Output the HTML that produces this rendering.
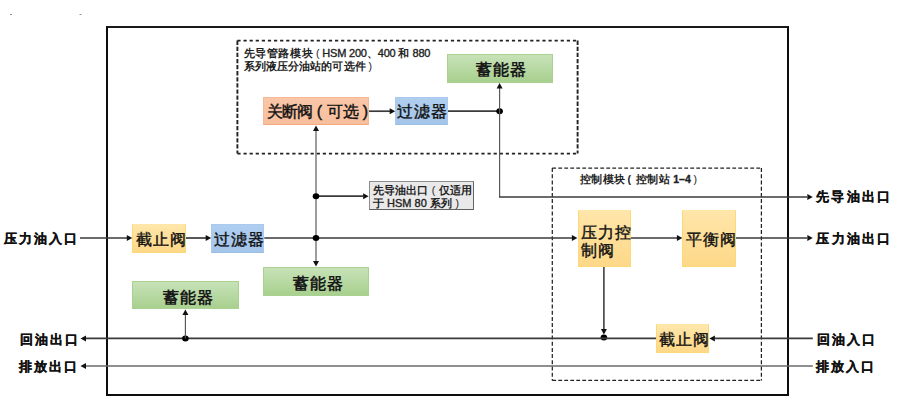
<!DOCTYPE html>
<html><head><meta charset="utf-8">
<style>
html,body{margin:0;padding:0;background:#fff;}
body{width:902px;height:417px;position:relative;overflow:hidden;font-family:"Liberation Sans",sans-serif;color:#111;}
.a{position:absolute;}
.bx{position:absolute;box-sizing:border-box;}
.t{position:absolute;white-space:nowrap;line-height:1;color:#1a1a1a;}
.b16{font-size:16px;color:#111;-webkit-text-stroke:0.4px #111;}
.g16{font-size:16px;font-weight:bold;}
.l14{font-size:13px;font-weight:bold;letter-spacing:2px;color:#111;-webkit-text-stroke:0.25px #111;}
.s11{font-size:10.5px;color:#222;}
.cj{font-weight:bold;letter-spacing:0.5px;}
.lat{font-size:11px;-webkit-text-stroke:0.35px #222;}
.pw{display:inline-block;text-align:center;}
.green{background:linear-gradient(#c7e2b8,#a8d08e);border:1px solid #a9d18f;}
.yellow{background:linear-gradient(#ffe6aa,#fdd888);border:1px solid #fcd877;border-top-color:#ffe6a6;}
.salmon{background:linear-gradient(#f9c6a8,#f8bf9e);border:1px solid #f6b896;border-bottom-color:#f3a87e;}
.blue{background:linear-gradient(#afcef0,#a4c5ea);border:1px solid #a9caee;border-bottom-color:#9cbfe6;}
svg{position:absolute;left:0;top:0;}
</style></head><body>
<div class="a" style="left:106px;top:26px;width:678.5px;height:365.5px;border:2.1px solid #0d0d0d;border-top-color:#1a1a1a;border-bottom-width:2.6px;"></div>
<svg width="902" height="417" viewBox="0 0 902 417">
<line x1="237.40" y1="40.60" x2="577.60" y2="40.60" stroke="#222" stroke-width="1.90" stroke-dasharray="3.2,2.9"/>
<line x1="237.40" y1="153.60" x2="577.60" y2="153.60" stroke="#222" stroke-width="1.90" stroke-dasharray="3.2,2.9"/>
<line x1="237.40" y1="40.60" x2="237.40" y2="153.60" stroke="#222" stroke-width="1.90" stroke-dasharray="4.3,1.8"/>
<line x1="577.60" y1="40.60" x2="577.60" y2="153.60" stroke="#222" stroke-width="1.90" stroke-dasharray="4.3,1.8"/>
<line x1="552.30" y1="168.10" x2="761.40" y2="168.10" stroke="#222" stroke-width="1.25" stroke-dasharray="3.8,2.2"/>
<line x1="552.30" y1="380.40" x2="761.40" y2="380.40" stroke="#222" stroke-width="1.25" stroke-dasharray="3.8,2.2"/>
<line x1="552.30" y1="168.10" x2="552.30" y2="380.40" stroke="#222" stroke-width="1.25" stroke-dasharray="4.0,2.2"/>
<line x1="761.40" y1="168.10" x2="761.40" y2="380.40" stroke="#222" stroke-width="1.25" stroke-dasharray="4.0,2.2"/>
<line x1="80.00" y1="238.00" x2="127.00" y2="238.00" stroke="#3a3a3a" stroke-width="1.70"/>
<polygon points="132.30,238.00 126.80,235.00 126.80,241.00" fill="#111"/>
<line x1="185.70" y1="238.00" x2="206.00" y2="238.00" stroke="#3a3a3a" stroke-width="1.70"/>
<polygon points="211.20,238.00 205.70,235.00 205.70,241.00" fill="#111"/>
<line x1="264.30" y1="238.00" x2="572.00" y2="238.00" stroke="#3a3a3a" stroke-width="1.70"/>
<polygon points="577.40,238.00 571.90,235.00 571.90,241.00" fill="#111"/>
<line x1="630.60" y1="238.00" x2="677.00" y2="238.00" stroke="#3a3a3a" stroke-width="1.70"/>
<polygon points="682.40,238.00 676.90,235.00 676.90,241.00" fill="#111"/>
<line x1="735.80" y1="238.00" x2="807.00" y2="238.00" stroke="#3a3a3a" stroke-width="1.70"/>
<polygon points="812.80,238.00 807.30,235.00 807.30,241.00" fill="#111"/>
<line x1="316.00" y1="131.00" x2="316.00" y2="261.00" stroke="#555" stroke-width="1.15"/>
<polygon points="316.00,125.60 313.00,131.10 319.00,131.10" fill="#111"/>
<polygon points="316.00,266.40 313.00,260.90 319.00,260.90" fill="#111"/>
<ellipse cx="316.00" cy="238.00" rx="3.30" ry="3.00" fill="#000"/>
<line x1="316.00" y1="196.20" x2="363.00" y2="196.20" stroke="#3a3a3a" stroke-width="1.70"/>
<polygon points="368.60,196.20 363.10,193.20 363.10,199.20" fill="#111"/>
<ellipse cx="316.00" cy="196.20" rx="3.30" ry="3.00" fill="#000"/>
<line x1="369.00" y1="111.20" x2="390.00" y2="111.20" stroke="#3a3a3a" stroke-width="1.70"/>
<polygon points="395.20,111.20 389.70,108.20 389.70,114.20" fill="#111"/>
<line x1="448.00" y1="111.20" x2="499.60" y2="111.20" stroke="#3a3a3a" stroke-width="1.70"/>
<ellipse cx="499.60" cy="111.20" rx="3.30" ry="3.00" fill="#000"/>
<line x1="499.60" y1="88.00" x2="499.60" y2="197.00" stroke="#555" stroke-width="1.15"/>
<polygon points="499.60,83.00 496.60,88.50 502.60,88.50" fill="#111"/>
<line x1="499.00" y1="197.00" x2="807.00" y2="197.00" stroke="#3a3a3a" stroke-width="1.70"/>
<polygon points="812.80,197.00 807.30,194.00 807.30,200.00" fill="#111"/>
<line x1="603.90" y1="267.00" x2="603.90" y2="333.00" stroke="#333" stroke-width="1.50"/>
<polygon points="603.90,334.40 600.90,328.90 606.90,328.90" fill="#111"/>
<ellipse cx="603.90" cy="337.60" rx="3.30" ry="3.00" fill="#000"/>
<line x1="714.50" y1="338.40" x2="812.80" y2="338.40" stroke="#3a3a3a" stroke-width="1.70"/>
<polygon points="709.40,338.40 714.90,335.40 714.90,341.40" fill="#111"/>
<line x1="85.50" y1="338.40" x2="656.20" y2="338.40" stroke="#3a3a3a" stroke-width="1.70"/>
<polygon points="80.50,338.40 86.00,335.40 86.00,341.40" fill="#111"/>
<ellipse cx="185.40" cy="338.40" rx="3.30" ry="3.00" fill="#000"/>
<line x1="185.40" y1="314.50" x2="185.40" y2="338.40" stroke="#555" stroke-width="1.15"/>
<polygon points="185.40,309.50 182.40,315.00 188.40,315.00" fill="#111"/>
<line x1="85.50" y1="366.00" x2="812.80" y2="366.00" stroke="#6a6a6a" stroke-width="1.40"/>
<polygon points="80.50,366.00 86.00,363.00 86.00,369.00" fill="#111"/>
<rect x="10" y="14" width="2" height="1" fill="#8a8ab0"/>
<rect x="79.5" y="14" width="2" height="1" fill="#8a8ab0"/>
</svg>
<div class="bx salmon" style="left:263.3px;top:97px;width:105.7px;height:28px;"></div>
<div class="bx blue" style="left:395px;top:97px;width:53px;height:28px;"></div>
<div class="bx green" style="left:447px;top:54px;width:106px;height:29px;"></div>
<div class="bx" style="left:368.6px;top:181.2px;width:105.3px;height:29.2px;background:#e9e9e9;border:1px solid #8c8c8c;border-right-color:#666;border-bottom-color:#5e5e5e;"></div>
<div class="bx yellow" style="left:132.3px;top:224.3px;width:53.4px;height:28.7px;"></div>
<div class="bx blue" style="left:211.2px;top:224.3px;width:53.1px;height:28.7px;"></div>
<div class="bx green" style="left:263.4px;top:266.5px;width:105.6px;height:29.6px;"></div>
<div class="bx green" style="left:132.2px;top:280.7px;width:106.5px;height:28.7px;"></div>
<div class="bx yellow" style="left:577.6px;top:210px;width:53px;height:57px;"></div>
<div class="bx yellow" style="left:682.4px;top:210px;width:53.4px;height:57px;"></div>
<div class="bx yellow" style="left:656.2px;top:324.3px;width:53.1px;height:28.6px;"></div>

<div class="t s11" id="t1" style="left:243.7px;top:48.2px;"><span class="cj" style="letter-spacing:0.6px">先导管路模块</span><span class="pw" style="width:9px;">(</span><span class="lat" style="letter-spacing:-0.2px">HSM 200</span><span class="cj" style="letter-spacing:0">、</span><span class="lat" style="letter-spacing:-0.2px">400 </span><span class="cj">和</span><span class="lat" style="letter-spacing:-0.3px"> 880</span></div>
<div class="t s11" id="t2" style="left:243.7px;top:61.2px;"><span class="cj" style="letter-spacing:0.1px">系列液压分油站的可选件</span><span class="pw" style="width:9px;">)</span></div>
<div class="t b16" id="t3" style="left:267px;top:104.4px;"><span style="letter-spacing:-1.2px;">关断阀</span><span class="pw" style="width:16px;">(</span><span>可选</span><span class="pw" style="width:12px;">)</span></div>
<div class="t b16" id="t4" style="left:397.0px;top:104px;letter-spacing:0.8px;">过滤器</div>
<div class="t g16" id="t5" style="left:475.5px;top:62px;letter-spacing:1px;">蓄能器</div>
<div class="t s11" id="t6" style="left:372.5px;top:184.5px;"><span class="cj" style="letter-spacing:0.2px">先导油出口</span><span class="pw" style="width:10px;">(</span><span class="cj" style="letter-spacing:0.1px">仅适用</span></div>
<div class="t s11" id="t7" style="left:372.5px;top:197.5px;"><span class="cj">于</span><span class="lat"> HSM 80 </span><span class="cj">系列</span><span class="pw" style="width:9px;">)</span></div>
<div class="t b16" id="t8" style="left:136.3px;top:232px;letter-spacing:1px;">截止阀</div>
<div class="t b16" id="t9" style="left:214.0px;top:232px;letter-spacing:1px;">过滤器</div>
<div class="t g16" id="t10" style="left:292.6px;top:276px;letter-spacing:1px;">蓄能器</div>
<div class="t g16" id="t11" style="left:163.0px;top:289.5px;letter-spacing:1px;">蓄能器</div>
<div class="t s11" id="t12" style="left:579.8px;top:174px;"><span class="cj">控制模块</span><span class="pw" style="width:10px;position:relative;left:-1.5px;font-weight:bold;">(</span><span class="cj">控制站</span><span class="lat" style="font-weight:bold;font-size:10.5px;"> 1–4</span><span class="pw" style="width:9px;">)</span></div>
<div class="t b16" id="t13" style="left:580.9px;top:225px;letter-spacing:0.9px;">压力控</div>
<div class="t b16" id="t14" style="left:580.9px;top:243px;letter-spacing:0.9px;">制阀</div>
<div class="t b16" id="t15" style="left:685.9px;top:232px;letter-spacing:1px;">平衡阀</div>
<div class="t b16" id="t16" style="left:659.1px;top:331.5px;letter-spacing:1.2px;">截止阀</div>

<div class="t l14" id="L1" style="left:3.7px;top:232px;letter-spacing:2.2px;">压力油入口</div>
<div class="t l14" id="L2" style="left:19.5px;top:333px;">回油出口</div>
<div class="t l14" id="L3" style="left:19px;top:360px;">排放出口</div>
<div class="t l14" id="L4" style="left:816.2px;top:189.6px;letter-spacing:2.2px;">先导油出口</div>
<div class="t l14" id="L5" style="left:816.4px;top:232px;letter-spacing:2.2px;">压力油出口</div>
<div class="t l14" id="L6" style="left:816.5px;top:333px;">回油入口</div>
<div class="t l14" id="L7" style="left:816.2px;top:360px;">排放入口</div>
</body></html>
